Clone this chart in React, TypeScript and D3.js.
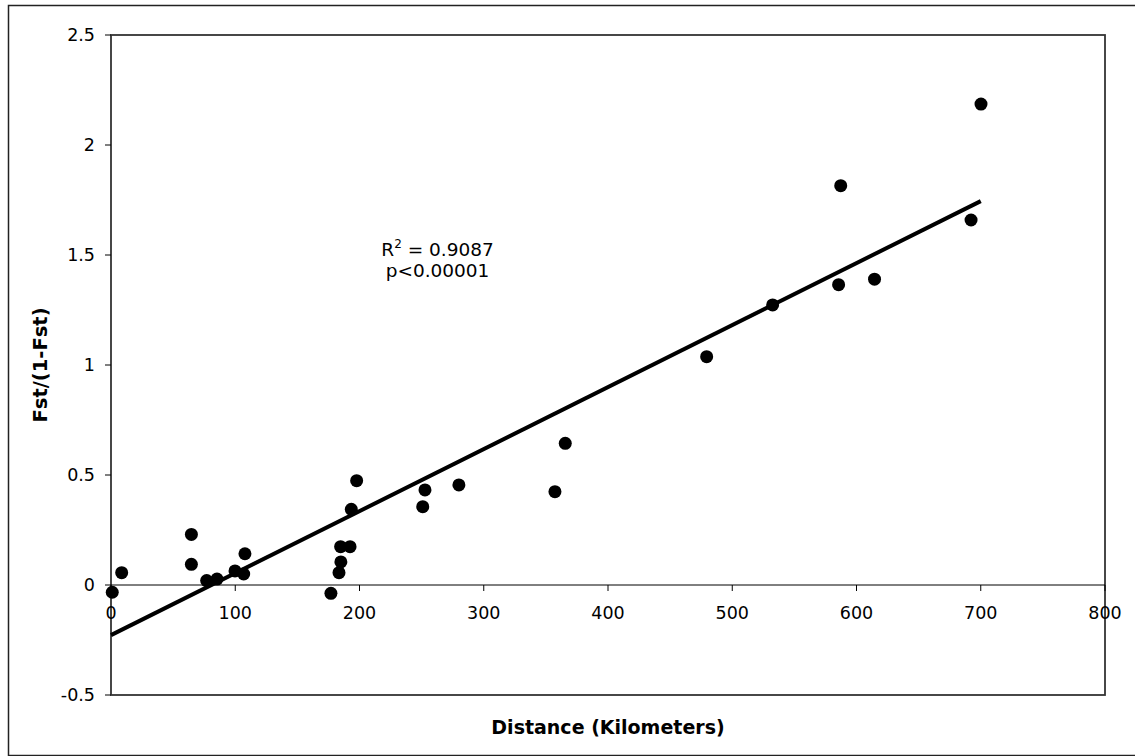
import React, { useEffect, useRef } from 'react';
import * as d3 from 'd3';

// distance (km) and Fst/(1-Fst) pairs
const distance = [1, 8.6, 64.7, 64.7, 77, 85.3, 99.8, 106.8, 107.8, 177, 183.5, 185, 184.8, 192.4, 193.4, 197.7,
  250.9, 252.7, 280, 357.3, 365.6, 479.4, 532.5, 585.6, 587.3, 614.5, 692.2, 700.2];
const fst = [-0.033, 0.056, 0.23, 0.094, 0.02, 0.027, 0.064, 0.05, 0.142, -0.038, 0.056, 0.105, 0.174, 0.174, 0.344, 0.474,
  0.356, 0.432, 0.455, 0.424, 0.644, 1.038, 1.273, 1.365, 1.815, 1.39, 1.659, 2.186];

// linear trend line end points
const trendX = [0, 700];
const trendY = [-0.228, 1.745];

const xTicks = [0, 100, 200, 300, 400, 500, 600, 700, 800];
const yTicks = [-0.5, 0, 0.5, 1, 1.5, 2, 2.5];

const annotation = ['R2 = 0.9087', 'p<0.00001'];
const annotationAt = [262.8, 1.495];

const App = () => {
  const svgRef = useRef<SVGSVGElement>(null);

  useEffect(() => {
    document.body.style.margin = '0';
    document.body.style.overflow = 'hidden';

    const width = 1135;
    const height = 756;
    const left = 111, right = 1105, top = 35, bottom = 695;
    const font = "'DejaVu Sans', Verdana, sans-serif";

    const svg = d3.select(svgRef.current)
      .attr('width', width)
      .attr('height', height)
      .style('font-family', font);
    svg.selectAll('*').remove();

    const x = d3.scaleLinear().domain([0, 800]).range([left, right]);
    const y = d3.scaleLinear().domain([-0.5, 2.5]).range([bottom, top]);

    // outer chart border
    svg.append('rect')
      .attr('x', 8.5).attr('y', 5.5)
      .attr('width', 1140).attr('height', 750)
      .attr('fill', 'white')
      .attr('stroke', '#222')
      .attr('stroke-width', 1.5);

    // plot area border
    svg.append('rect')
      .attr('x', left).attr('y', top)
      .attr('width', right - left).attr('height', bottom - top)
      .attr('fill', 'white')
      .attr('stroke', '#333')
      .attr('stroke-width', 1.8);

    // y axis ticks + labels
    const yAxis = svg.append('g');
    yAxis.selectAll('line')
      .data(yTicks)
      .join('line')
      .attr('x1', left - 6).attr('x2', left)
      .attr('y1', d => y(d)).attr('y2', d => y(d))
      .attr('stroke', '#000');
    yAxis.selectAll('text')
      .data(yTicks)
      .join('text')
      .attr('x', left - 16)
      .attr('y', d => y(d))
      .attr('dy', '0.36em')
      .attr('text-anchor', 'end')
      .style('font-size', '17.5px')
      .text(d => d);

    // x axis on the zero line
    const xAxis = svg.append('g');
    xAxis.append('line')
      .attr('x1', left).attr('x2', right)
      .attr('y1', y(0)).attr('y2', y(0))
      .attr('stroke', '#000');
    xAxis.selectAll('line.tick')
      .data(xTicks)
      .join('line')
      .attr('class', 'tick')
      .attr('x1', d => x(d)).attr('x2', d => x(d))
      .attr('y1', y(0)).attr('y2', y(0) + 6)
      .attr('stroke', '#000');
    xAxis.selectAll('text')
      .data(xTicks)
      .join('text')
      .attr('x', d => x(d))
      .attr('y', y(0) + 28)
      .attr('dy', '0.36em')
      .attr('text-anchor', 'middle')
      .style('font-size', '17.5px')
      .text(d => d);

    // trend line
    const line = d3.line<number>()
      .x((_, i) => x(trendX[i]))
      .y(d => y(d));
    svg.append('path')
      .attr('d', line(trendY))
      .attr('fill', 'none')
      .attr('stroke', '#000')
      .attr('stroke-width', 4);

    // points
    svg.append('g')
      .selectAll('circle')
      .data(distance)
      .join('circle')
      .attr('cx', d => x(d))
      .attr('cy', (_, i) => y(fst[i]))
      .attr('r', 6.5)
      .attr('fill', '#000');

    // R^2 annotation
    const ax = x(annotationAt[0]);
    const ay = y(annotationAt[1]);
    const t1 = svg.append('text')
      .attr('x', ax).attr('y', ay)
      .attr('text-anchor', 'middle')
      .style('font-size', '18.5px');
    t1.append('tspan').text('R');
    t1.append('tspan').attr('dy', -8).style('font-size', '12px').text('2');
    t1.append('tspan').attr('dy', 8).text(annotation[0].slice(2));
    svg.append('text')
      .attr('x', ax).attr('y', ay + 21)
      .attr('text-anchor', 'middle')
      .style('font-size', '18.5px')
      .text(annotation[1]);

    // axis titles
    svg.append('text')
      .attr('x', (left + right) / 2)
      .attr('y', 727)
      .attr('dy', '0.36em')
      .attr('text-anchor', 'middle')
      .style('font-size', '19px')
      .style('font-weight', 'bold')
      .text('Distance (Kilometers)');

    svg.append('text')
      .attr('transform', `translate(40,${(top + bottom) / 2}) rotate(-90)`)
      .attr('dy', '0.36em')
      .attr('text-anchor', 'middle')
      .style('font-size', '19.5px')
      .style('font-weight', 'bold')
      .text('Fst/(1-Fst)');
  }, []);

  return (
    <svg ref={svgRef} style={{ position: 'absolute', left: 0, top: 0, display: 'block' }}></svg>
  );
};

export default App;
